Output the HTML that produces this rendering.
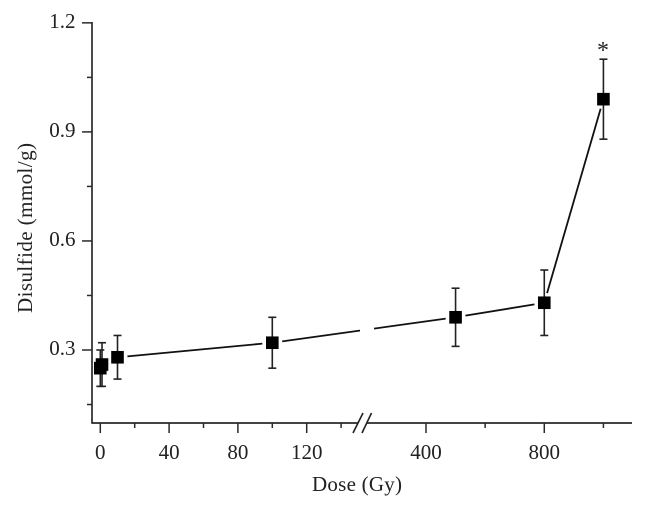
<!DOCTYPE html>
<html>
<head>
<meta charset="utf-8">
<style>
html,body{margin:0;padding:0;background:#fff;}
svg{display:block;}
text{font-family:"Liberation Serif",serif;fill:#222;}
</style>
</head>
<body>
<svg id="chart" width="646" height="510" viewBox="0 0 646 510" xmlns="http://www.w3.org/2000/svg">
<text x="357" y="491" font-size="21" text-anchor="middle" textLength="90" lengthAdjust="spacing">Dose (Gy)</text>
<text transform="translate(32,228) rotate(-90)" font-size="21" text-anchor="middle" textLength="170" lengthAdjust="spacing">Disulfide (mmol/g)</text>
<text x="603" y="58" font-size="24" text-anchor="middle">*</text>
</svg>
<script>
const doses = [0, 1, 10, 100, 500, 800, 1000];
const means = [0.25, 0.26, 0.28, 0.32, 0.39, 0.43, 0.99];
const errHigh = [0.30, 0.32, 0.34, 0.39, 0.47, 0.52, 1.10];
const errLow = [0.20, 0.20, 0.22, 0.25, 0.31, 0.34, 0.88];
const xMajorTicks = [0, 40, 80, 120, 400, 800];
const xMinorTicks = [20, 60, 100, 140, 600, 1000];
const yMajorTicks = [0.3, 0.6, 0.9, 1.2];
const yMinorTicks = [0.15, 0.45, 0.75, 1.05];
const breakDose = 200;

const svg = document.getElementById('chart');
const NS = 'http://www.w3.org/2000/svg';
const axisColor = '#2a2a2a';
const baseY = 423;
const axisX = 92;

function xScale(d) {
  if (d <= breakDose) return 100.3 + 1.72 * d;
  return 426 + (d - 400) * 0.2957;
}
function yScale(v) {
  return 350 - (v - 0.3) * 363.5;
}
function line(x1, y1, x2, y2, color, width) {
  const el = document.createElementNS(NS, 'line');
  el.setAttribute('x1', x1);
  el.setAttribute('y1', y1);
  el.setAttribute('x2', x2);
  el.setAttribute('y2', y2);
  el.setAttribute('stroke', color);
  el.setAttribute('stroke-width', width);
  svg.appendChild(el);
  return el;
}
function label(x, y, str, anchor) {
  const el = document.createElementNS(NS, 'text');
  el.setAttribute('x', x);
  el.setAttribute('y', y);
  el.setAttribute('font-size', '21');
  el.setAttribute('text-anchor', anchor);
  el.textContent = str;
  svg.appendChild(el);
  return el;
}

// axes
let el = line(axisX, yScale(1.2) - 0.8, axisX, baseY + 0.8, axisColor, 1.7);


el = line(axisX, baseY, 358, baseY, axisColor, 1.7);


el = line(367, baseY, 632, baseY, axisColor, 1.7);


el = line(353, 433, 363, 413, '#222', 1.6);


el = line(362, 433, 371.5, 413, '#222', 1.6);



// x ticks
xMajorTicks.forEach(function (t) {
  const tick = line(xScale(t), baseY, xScale(t), baseY + 10, axisColor, 1.5);
  
  
  const lab = label(xScale(t), 459, String(t), 'middle');
  
  
});
xMinorTicks.forEach(function (t) {
  const tick = line(xScale(t), baseY, xScale(t), baseY + 5, axisColor, 1.5);
  
  
});

// y ticks
yMajorTicks.forEach(function (t) {
  const tick = line(axisX - 10, yScale(t), axisX, yScale(t), axisColor, 1.5);
  
  
  const lab = label(75.5, yScale(t) + 5, t.toFixed(1), 'end');
  
  
});
yMinorTicks.forEach(function (t) {
  const tick = line(axisX - 5, yScale(t), axisX, yScale(t), axisColor, 1.5);
  
  
});

// connecting line with gaps around markers
const gap = 10;
for (let i = 0; i < doses.length - 1; i++) {
  const x1 = xScale(doses[i]);
  const y1 = yScale(means[i]);
  const x2 = xScale(doses[i + 1]);
  const y2 = yScale(means[i + 1]);
  const len = Math.hypot(x2 - x1, y2 - y1);
  if (len <= 2 * gap) continue;
  const ux = (x2 - x1) / len;
  const uy = (y2 - y1) / len;
  const seg = line(x1 + ux * gap, y1 + uy * gap, x2 - ux * gap, y2 - uy * gap, '#111', 1.8);
  
  
}
// white gap where the line crosses the axis break
const breakMask = document.createElementNS(NS, 'rect');


breakMask.setAttribute('x', 360);
breakMask.setAttribute('y', 300);
breakMask.setAttribute('width', 14);
breakMask.setAttribute('height', 60);
breakMask.setAttribute('fill', '#fff');
svg.appendChild(breakMask);

// error bars and markers
doses.forEach(function (d, i) {
  const x = xScale(d);
  const bar = line(x, yScale(errHigh[i]), x, yScale(errLow[i]), '#222', 1.6);
  
  
  const capTop = line(x - 4, yScale(errHigh[i]), x + 4, yScale(errHigh[i]), '#222', 1.6);
  
  
  const capBottom = line(x - 4, yScale(errLow[i]), x + 4, yScale(errLow[i]), '#222', 1.6);
  
  
});
doses.forEach(function (d, i) {
  const m = document.createElementNS(NS, 'rect');
  
  
  m.setAttribute('x', xScale(d) - 6.3);
  m.setAttribute('y', yScale(means[i]) - 6.3);
  m.setAttribute('width', 12.6);
  m.setAttribute('height', 12.6);
  m.setAttribute('fill', '#000');
  svg.appendChild(m);
});
</script>
</body>
</html>
